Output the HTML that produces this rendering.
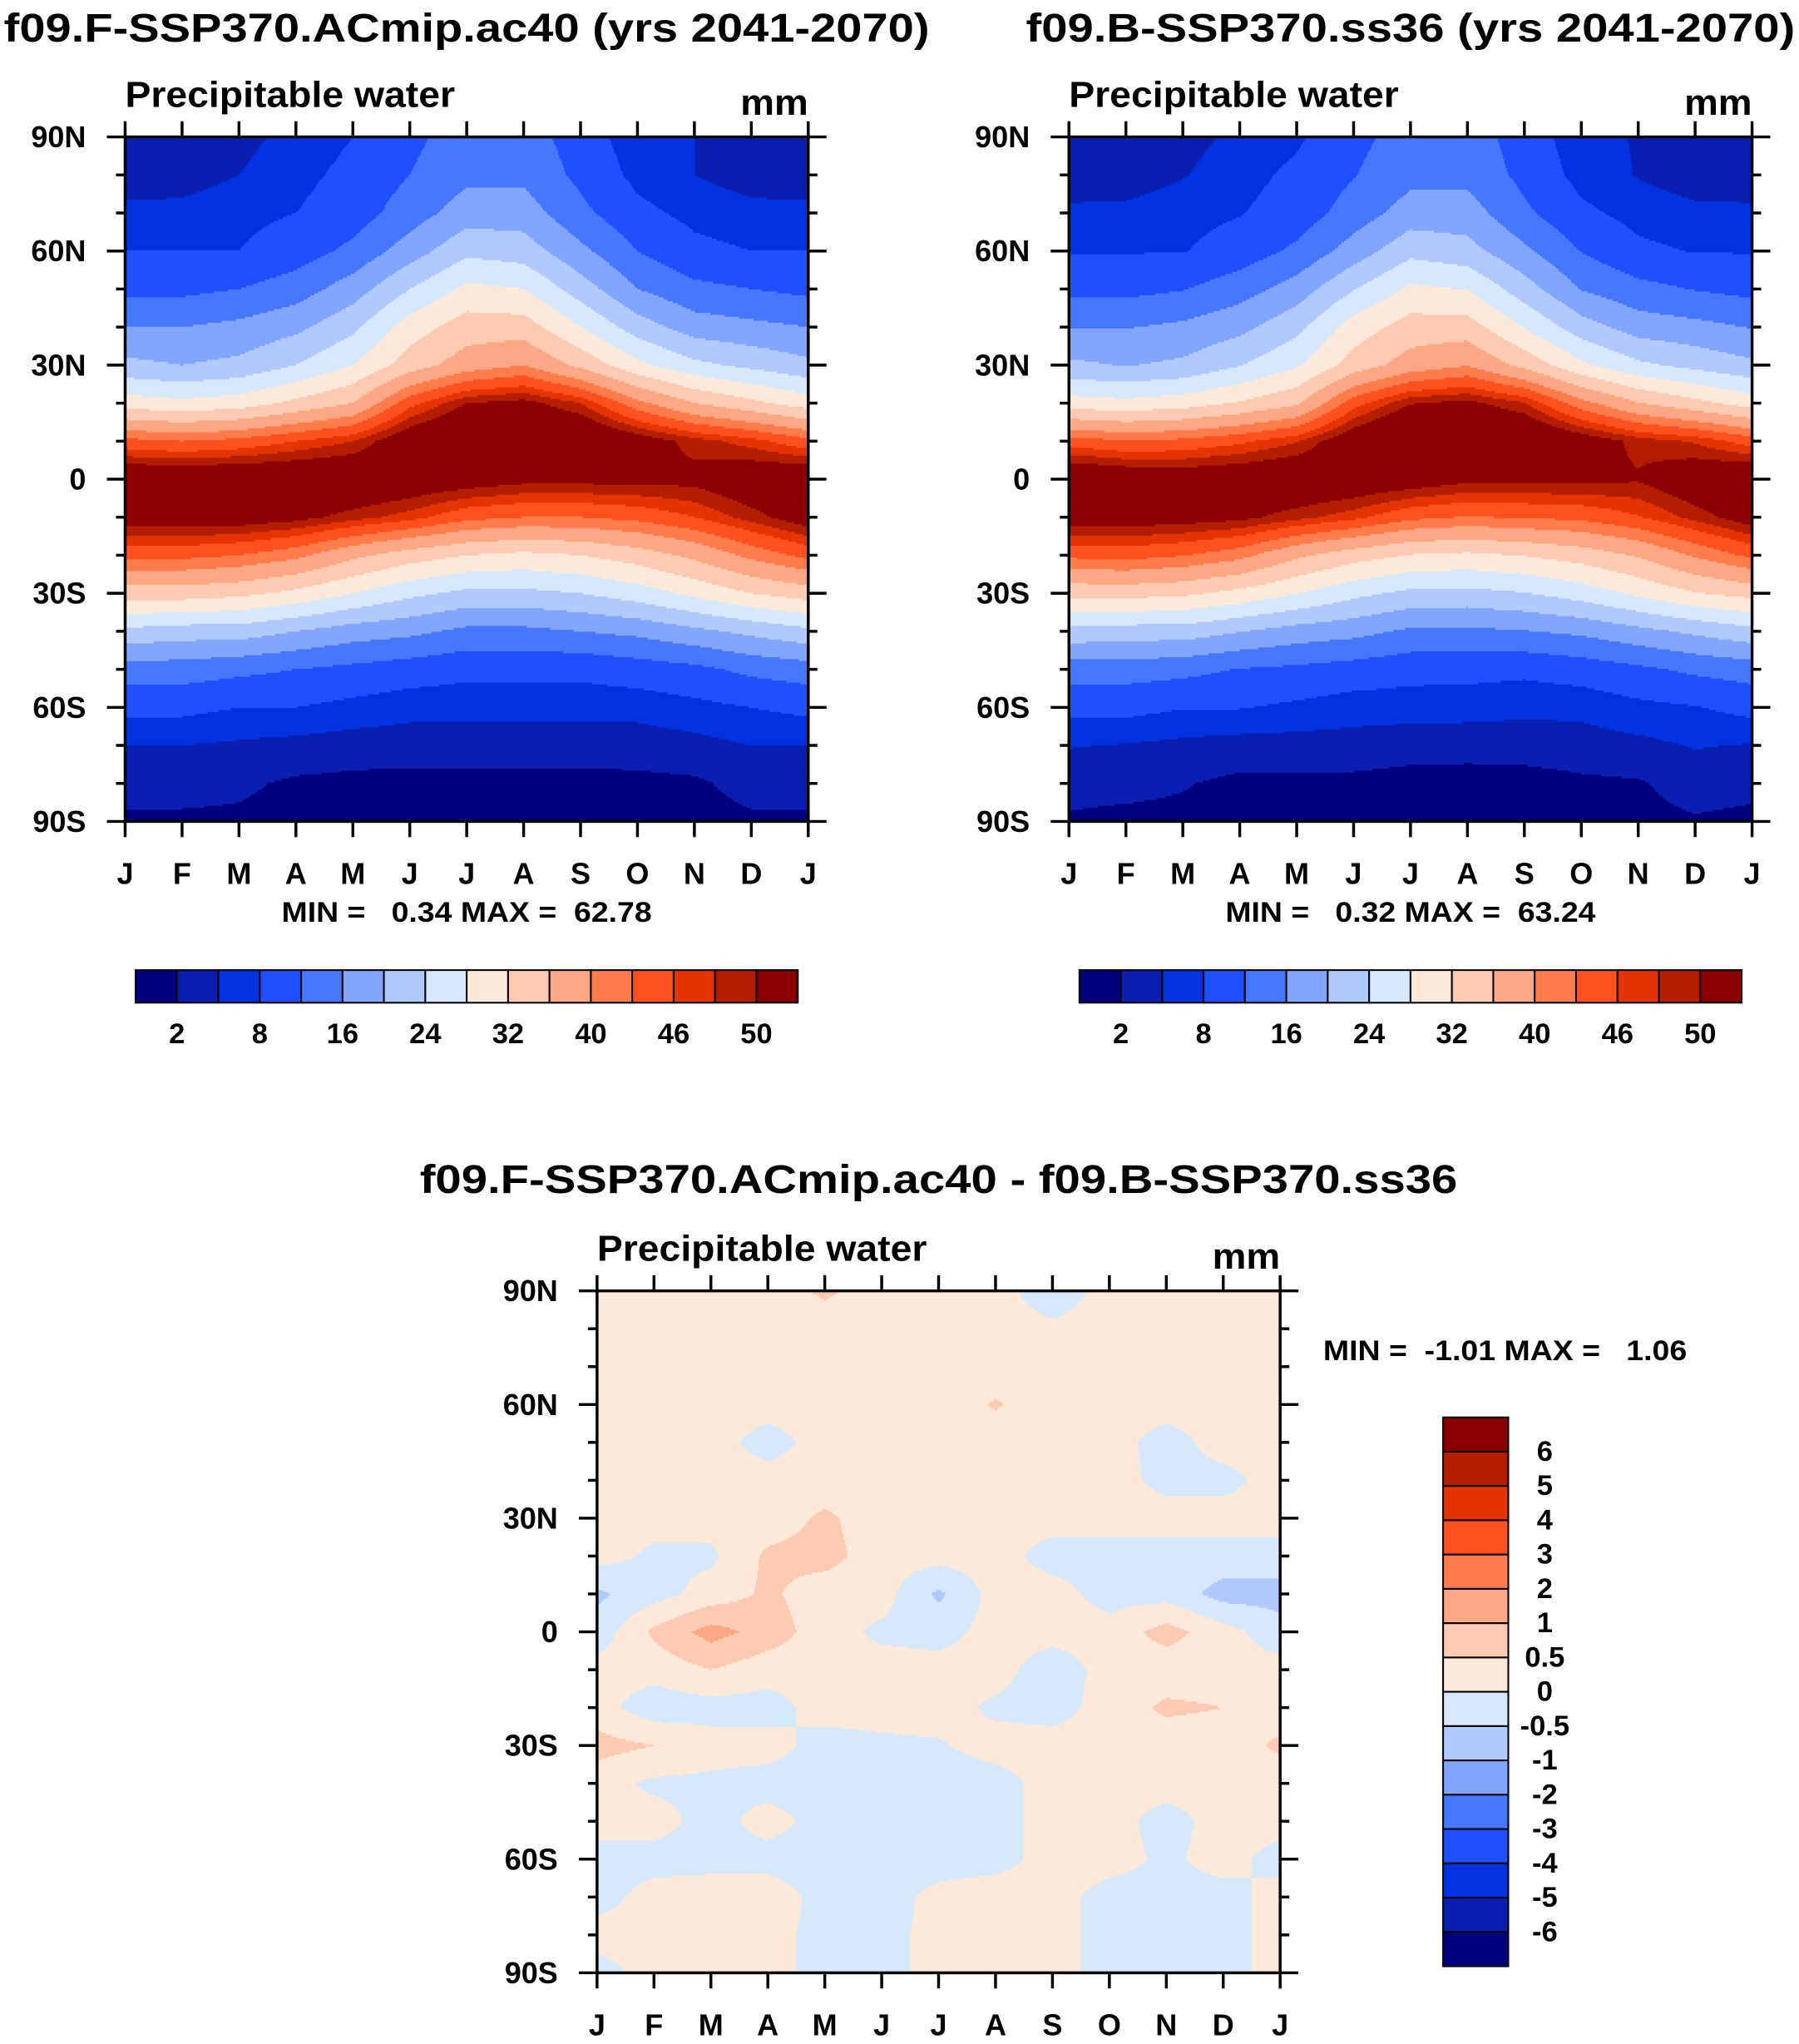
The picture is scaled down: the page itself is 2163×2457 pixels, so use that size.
<!DOCTYPE html>
<html><head><meta charset="utf-8"><title>Precipitable water</title>
<style>html,body{margin:0;padding:0;background:#fff}svg{display:block}
text{font-family:"Liberation Sans",sans-serif;font-weight:bold;fill:#000;white-space:pre}</style></head>
<body>
<svg id="fig" xmlns="http://www.w3.org/2000/svg" width="2163" height="2457" viewBox="0 0 1380 1567.6" preserveAspectRatio="none">
<text x="3" y="32" font-size="31" textLength="710" lengthAdjust="spacingAndGlyphs">f09.F-SSP370.ACmip.ac40 (yrs 2041-2070)</text>
<text x="787" y="32" font-size="31" textLength="590" lengthAdjust="spacingAndGlyphs">f09.B-SSP370.ss36 (yrs 2041-2070)</text>
<text x="322" y="915" font-size="31" textLength="796" lengthAdjust="spacingAndGlyphs">f09.F-SSP370.ACmip.ac40 - f09.B-SSP370.ss36</text>
<g id="pa"></g>
<g id="pb"></g>
<g id="pd"></g>
</svg>
<script>
const months = ["J","F","M","A","M","J","J","A","S","O","N","D","J"];
const lats = [90,80,70,60,50,40,30,20,10,0,-10,-20,-30,-40,-50,-60,-70,-80,-90];
const latLabels = ["90N","60N","30N","0","30S","60S","90S"];
const fieldLevels = [2,5,8,12,16,20,24,28,32,36,40,43,46,48,50];
const fieldTickLabels = ["2","8","16","24","32","40","46","50"];
const diffLevels = [-6,-5,-4,-3,-2,-1,-0.5,0,0.5,1,2,3,4,5,6];
const diffTickLabels = ["6","5","4","3","2","1","0.5","0","-0.5","-1","-2","-3","-4","-5","-6"];
const colors = ["#00007f","#0a1fb0","#0032e0","#1e50ff","#4678ff","#82a5ff","#b0c9ff","#d6e8fc","#fee8d8","#fdcab2","#fca884","#ff7d4c","#ff5020","#e43404","#b41e00","#8a0000"];
// panel A (rows 90N..90S, cols Jan..Jan)
const fieldA = [
[3,3,4,6,8,11,14,14,10,6,5,3,3],
[3,3.5,5,7,9,12,15,15,11,7,5,3.5,3],
[6,6,7,8,10,14,18,18,13,9,7,6,6],
[8,8,8,10,13,18,23,22,17,12,9,8,8],
[11,11,12,14,18,24,29,28,22,16,13,12,11],
[16,16,17,19,23,30,34,34,28,22,18,17,16],
[21,20,21,24,28,34,38,40,35,29,25,23,21],
[30,29,30,33,36,45,50,51,48,41,36,33,30],
[44,43,44,46,48,53,56,56,55,52,49,47,44],
[54,54,54,54,54,53,52,51,51,51,51,53,54],
[52,52,52,51,49,47,44,43,43,44,46,49,52],
[44,44,43,41,37,34,32,31,32,34,37,41,44],
[34,34,33,31,28,25,23,23,24,26,29,32,34],
[23,22,22,20,18,17,15,15,16,17,19,21,23],
[14,14,13,12,11,10,9,9,9,10,11,13,14],
[9,9,8,8,7,6,6,6,6,6,7,8,9],
[5,5,4.5,4,3.5,3.5,3.5,3.5,3.5,3.5,4,5,5],
[3,3,2.5,1.5,1.2,1,1,1,1,1.2,1.5,3,3],
[1.5,1.5,1.5,1,0.8,0.6,0.5,0.5,0.5,0.6,1,1.5,1.5]];
// difference A - B
const diffAB = [
[.2,.2,.2,.2,.6,.2,.2,.2,-.3,.2,.2,.2,.2],
[.2,.2,.2,.2,.2,.2,.2,.2,.1,.2,.2,.2,.2],
[.2,.2,.2,.2,.2,.2,.2,.2,.2,.2,.2,.2,.2],
[.2,.2,.2,.2,.2,.2,.2,.55,.2,.2,.2,.2,.2],
[.2,.2,.2,-.2,.2,.2,.2,.2,.2,.2,-.2,.2,.2],
[.2,.2,.2,.2,.2,.2,.2,.2,.2,.2,-.15,-.15,.2],
[.2,.2,.2,.2,.6,.2,.2,.2,.2,.2,.2,.2,.2],
[.2,-.1,-.1,.6,.7,.2,.2,.2,-.2,-.2,-.2,-.2,-.2],
[-.6,-.2,.2,.6,.2,.2,-.6,.2,.2,-.2,-.2,-.7,-.7],
[-.3,.6,1.2,.8,.2,-.1,-.2,.2,.2,.2,.7,.2,-.3],
[.2,.2,.5,.2,.2,.2,.2,.2,-.3,.2,.2,.2,.2],
[.2,-.3,-.2,-.2,.2,.2,.2,-.1,-.2,.2,.6,.5,.2],
[.7,.5,.2,.2,-.2,-.1,-.05,.2,.2,.2,.2,.2,.6],
[.2,-.1,-.1,-.2,-.3,-.3,-.3,-.2,.2,.2,.2,.2,.2],
[.2,.2,-.2,.2,-.2,-.3,-.3,-.2,.2,.2,-.2,.2,.2],
[-.2,-.2,-.2,-.2,-.3,-.3,-.3,-.2,.2,.2,-.1,.2,-.2],
[-.2,.2,.3,.3,-.2,-.3,.2,.3,.2,-.2,-.2,-.2,.2],
[.2,.2,.3,.2,-.2,-.2,.2,.3,.2,-.2,-.2,-.2,.2],
[-.2,.2,.2,.2,-.2,-.2,.2,.2,.2,-.2,-.2,-.2,.2]];
const fieldB = fieldA.map((r,i)=>r.map((v,j)=>v - diffAB[i][j]));
const NS="http://www.w3.org/2000/svg";
function mk(tag,attrs,parent){const e=document.createElementNS(NS,tag);for(const k in attrs)e.setAttribute(k,attrs[k]);parent.appendChild(e);return e;}
function levelIndex(v,levels){let i=0;while(i<levels.length&&v>=levels[i])i++;return i;}
function sample(grid,mx,la){
  const nr=grid.length,nc=grid[0].length;
  let r=(90-la)/10; r=Math.max(0,Math.min(nr-1.0001,r));
  let c=Math.max(0,Math.min(nc-1.0001,mx));
  const r0=Math.floor(r),c0=Math.floor(c),fr=r-r0,fc=c-c0;
  const a=grid[r0][c0],b=grid[r0][c0+1],cc=grid[r0+1][c0],d=grid[r0+1][c0+1];
  return (a*(1-fc)+b*fc)*(1-fr)+(cc*(1-fc)+d*fc)*fr;
}
function drawPanel(g,grid,levels,x0,y0,w,h){
  const xs=m=>x0+m/12*w, ys=l=>y0+(90-l)/180*h;
  const cg=mk('g',{},g);
  
  
  const sy=1.5,sx=1;
  for(let y=0;y<h;y+=sy){
    const la=90-(y+sy/2)/h*180;
    let start=0,cur=-1;
    for(let x=0;x<=w;x+=sx){
      let ci=-1;
      if(x<w){ci=levelIndex(sample(grid,(x+sx/2)/w*12,la),levels);}
      if(ci!==cur){
        if(cur>=0){const r=mk('rect',{x:x0+start,y:y0+y,width:x-start+0.6,height:sy+0.6,fill:colors[cur]},cg);
          
          }
        start=x;cur=ci;}
    }
  }
  mk('rect',{x:x0,y:y0,width:w,height:h,fill:'none',stroke:'#000','stroke-width':2.2},g);
  const ax=mk('g',{},g);
  
  
  for(let m=0;m<=12;m++){const X=xs(m);
    mk('line',{x1:X,x2:X,y1:y0,y2:y0-12,stroke:'#000','stroke-width':2.2},ax);
    mk('line',{x1:X,x2:X,y1:y0+h,y2:y0+h+12,stroke:'#000','stroke-width':2.2},ax);
    const t=mk('text',{x:X,y:y0+h+48,'font-size':23,'text-anchor':'middle'},ax);t.textContent=months[m];
    
    }
  for(let l=-90;l<=90;l+=10){const Y=ys(l),maj=(l%30===0);const L=maj?14:7;
    mk('line',{x1:x0,x2:x0-L,y1:Y,y2:Y,stroke:'#000','stroke-width':2.2},ax);
    mk('line',{x1:x0+w,x2:x0+w+L,y1:Y,y2:Y,stroke:'#000','stroke-width':2.2},ax);}
  latLabels.forEach((s,i)=>{const t=mk('text',{x:x0-30,y:ys(90-i*30)+8,'font-size':23,'text-anchor':'end'},ax);t.textContent=s;
    
    });
  const st=mk('text',{x:x0,y:y0-23,'font-size':28,textLength:253,lengthAdjust:'spacingAndGlyphs'},g);st.textContent='Precipitable water';
  
  
  const u=mk('text',{x:x0+w-52,y:y0-17,'font-size':28,textLength:52,lengthAdjust:'spacingAndGlyphs'},g);u.textContent='mm';
  
  
}
function hbar(g,x0,y0,w,h,labels){
  const cb=mk('g',{},g);
  
  
  const bw=w/colors.length;
  colors.forEach((c,i)=>{const r=mk('rect',{x:x0+i*bw,y:y0,width:bw,height:h,fill:c,stroke:'#000','stroke-width':1.3},cb);
    
    });
  labels.forEach((s,i)=>{const t=mk('text',{x:x0+(1+2*i)*bw,y:y0+h+31,'font-size':22,'text-anchor':'middle'},cb);t.textContent=s;
    
    });
}
function minmax(g,x,y,txt,len){const t=mk('text',{x:x,y:y,'font-size':22,textLength:len,lengthAdjust:'spacingAndGlyphs'},g);t.textContent=txt;
  
  }
const pa=document.getElementById('pa'),pb=document.getElementById('pb'),pd=document.getElementById('pd');
drawPanel(pa,fieldA,fieldLevels,96,105,524,525);
minmax(pa,216,707,'MIN =   0.34 MAX =  62.78',284);
hbar(pa,104,744,508,25,fieldTickLabels);
drawPanel(pb,fieldB,fieldLevels,820,105,524,525);
minmax(pb,940,707,'MIN =   0.32 MAX =  63.24',284);
hbar(pb,828,744,508,25,fieldTickLabels);
drawPanel(pd,diffAB,diffLevels,458,990,524,523);
minmax(pd,1015,1043,'MIN =  -1.01 MAX =   1.06',279);
(function(){
  const cb=mk('g',{},pd);
  
  
  const x0=1107,y0=1087,w=50,h=421,bh=h/colors.length;
  for(let i=0;i<colors.length;i++){const r=mk('rect',{x:x0,y:y0+i*bh,width:w,height:bh,fill:colors[colors.length-1-i],stroke:'#000','stroke-width':1.3},cb);
    
    }
  diffTickLabels.forEach((s,i)=>{const t=mk('text',{x:1185,y:y0+(i+1)*bh+7,'font-size':22,'text-anchor':'middle'},cb);t.textContent=s;
    
    });
})();
</script>
</body></html>
